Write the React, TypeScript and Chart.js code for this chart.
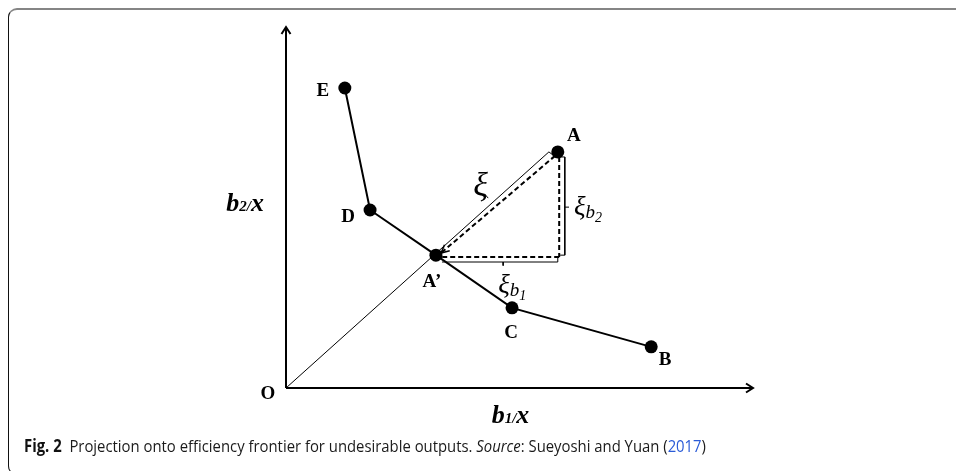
import React, { useEffect, useRef } from "react";
import { Chart, registerables } from "chart.js";

Chart.register(...registerables);

// ---- diagram data (abstract units: both axes run 0..10) ----
const frontierLabels = ["E", "D", "A\u2019", "C", "B"];
const frontierX = [1.26, 1.8, 3.21, 4.84, 7.82];
const frontierY = [8.31, 4.93, 3.68, 2.22, 1.14];

const unitLabels = ["A"];
const unitX = [5.82];
const unitY = [6.54];

const axisMax = [10, 10];

// ray from origin through A' (thin), ending with a small bracket tick
const rayX = [0, 5.63, 5.74];
const rayY = [0, 6.54, 6.43];
const xiTickX = [4.33, 4.25];
const xiTickY = [5.26, 5.38];

// dashed projection A -> A'
const projX = [5.76, 3.32];
const projY = [6.43, 3.74];
const dashVX = [5.85, 5.85];
const dashVY = [6.4, 3.63];
const dashHX = [5.85, 3.32];
const dashHY = [3.63, 3.63];

// bracket for xi_b2 (vertical)
const brVX = [5.87, 5.97, 5.97, 5.87];
const brVY = [6.4, 6.4, 3.68, 3.68];
const brVTickX = [5.97, 6.06];
const brVTickY = [5.01, 5.01];

// bracket for xi_b1 (horizontal)
const brHX = [3.34, 5.82, 5.82];
const brHY = [3.49, 3.49, 3.63];
const brHTickX = [4.65, 4.65];
const brHTickY = [3.49, 3.39];

const pts = (xs: number[], ys: number[]) => xs.map((x, i) => ({ x, y: ys[i] }));

const SERIF = "'Liberation Serif', 'Times New Roman', serif";

function chevron(ctx: CanvasRenderingContext2D, tx: number, ty: number, fx: number, fy: number, len: number, half: number) {
  const dx = tx - fx;
  const dy = ty - fy;
  const d = Math.hypot(dx, dy);
  const ux = dx / d;
  const uy = dy / d;
  const bx = tx - ux * len;
  const by = ty - uy * len;
  ctx.beginPath();
  ctx.moveTo(bx - uy * half, by + ux * half);
  ctx.lineTo(tx, ty);
  ctx.lineTo(bx + uy * half, by - ux * half);
  ctx.stroke();
}

function richText(ctx: CanvasRenderingContext2D, x: number, y: number, parts: { t: string; font: string; dy?: number }[], align: "left" | "center" | "right") {
  let total = 0;
  for (const p of parts) {
    ctx.font = p.font;
    total += ctx.measureText(p.t).width;
  }
  let cx = align === "left" ? x : align === "center" ? x - total / 2 : x - total;
  ctx.textAlign = "left";
  ctx.textBaseline = "alphabetic";
  for (const p of parts) {
    ctx.font = p.font;
    ctx.fillText(p.t, cx, y + (p.dy || 0));
    cx += ctx.measureText(p.t).width;
  }
}

const diagramPlugin = {
  id: "diagram",
  afterDatasetsDraw(chart: any) {
    const ctx: CanvasRenderingContext2D = chart.ctx;
    const xs = chart.scales.x;
    const ys = chart.scales.y;
    const px = (v: number) => xs.getPixelForValue(v);
    const py = (v: number) => ys.getPixelForValue(v);
    ctx.save();
    ctx.strokeStyle = "#000";
    ctx.fillStyle = "#000";
    ctx.setLineDash([]);
    ctx.lineCap = "butt";
    ctx.lineJoin = "miter";

    // axis arrowheads
    ctx.lineWidth = 2;
    chevron(ctx, px(axisMax[0]), py(0), px(0), py(0), 7, 4.5);
    chevron(ctx, px(0), py(axisMax[1]), px(0), py(0), 7, 4.5);

    // projection arrowhead at A'
    ctx.lineWidth = 1.6;
    chevron(ctx, px(projX[1]), py(projY[1]), px(projX[0]), py(projY[0]), 8, 4);

    // point labels
    ctx.font = `bold 19px ${SERIF}`;
    ctx.textAlign = "center";
    ctx.textBaseline = "middle";
    const offs: [number, number][] = [
      [-22, 3],
      [-22, 7],
      [-4, 27],
      [-1, 25],
      [14, 13],
    ];
    frontierLabels.forEach((l, i) => {
      ctx.fillText(l, px(frontierX[i]) + offs[i][0], py(frontierY[i]) + offs[i][1]);
    });
    unitLabels.forEach((l, i) => {
      ctx.fillText(l, px(unitX[i]) + 16, py(unitY[i]) - 16);
    });
    ctx.fillText("O", px(0) - 18, py(0) + 6);

    // axis titles
    const big = `italic bold 26px ${SERIF}`;
    const small = `italic bold 15px ${SERIF}`;
    richText(ctx, px(0) - 22, py(5) + 3, [
      { t: "b", font: big },
      { t: "2/", font: small },
      { t: "x", font: big },
    ], "right");
    richText(ctx, px(5) - 9, py(0) + 35, [
      { t: "b", font: big },
      { t: "1/", font: small },
      { t: "x", font: big },
    ], "center");

    // xi labels
    richText(ctx, px(xiTickX[1]) - 4, py(xiTickY[1]) + 2, [{ t: "\u03BE", font: `italic 34px ${SERIF}` }], "center");
    richText(ctx, px(brVTickX[1]) + 5, py(brVTickY[1]) + 8, [
      { t: "\u03BE", font: `italic 27px ${SERIF}` },
      { t: "b", font: `italic 19px ${SERIF}`, dy: 3 },
      { t: "2", font: `italic 14px ${SERIF}`, dy: 7 },
    ], "left");
    richText(ctx, px(brHTickX[1]) - 5, py(brHTickY[1]) + 27, [
      { t: "\u03BE", font: `italic 27px ${SERIF}` },
      { t: "b", font: `italic 19px ${SERIF}`, dy: 3 },
      { t: "1", font: `italic 14px ${SERIF}`, dy: 7 },
    ], "left");

    ctx.restore();
  },
};

const lineDs = (xs: number[], ys: number[], width: number, dash: number[] = []) => ({
  data: pts(xs, ys),
  showLine: true,
  borderColor: "#000",
  borderWidth: width,
  borderDash: dash,
  pointRadius: 0,
  pointHoverRadius: 0,
  fill: false,
  tension: 0,
  clip: false as any,
});

export default function App() {
  const canvasRef = useRef<HTMLCanvasElement | null>(null);
  const capRef = useRef<HTMLSpanElement | null>(null);

  useEffect(() => {
    document.documentElement.style.overflow = "hidden";
    document.body.style.overflow = "hidden";
    if (!canvasRef.current) return;
    const chart = new Chart(canvasRef.current, {
      type: "scatter",
      data: {
        datasets: [
          {
            ...lineDs(frontierX, frontierY, 2),
            pointRadius: 6.5,
            pointBackgroundColor: "#000",
            pointBorderColor: "#000",
            pointBorderWidth: 0,
          } as any,
          {
            data: pts(unitX, unitY),
            showLine: false,
            pointRadius: 6.5,
            pointBackgroundColor: "#000",
            pointBorderColor: "#000",
            pointBorderWidth: 0,
            clip: false,
          } as any,
          lineDs(projX, projY, 2, [5, 3]),
          lineDs(dashVX, dashVY, 2, [5, 3]),
          lineDs(dashHX, dashHY, 2, [5, 3]),
          lineDs(rayX, rayY, 1),
          lineDs(xiTickX, xiTickY, 1),
          lineDs(brVX, brVY, 1),
          lineDs(brVTickX, brVTickY, 1),
          lineDs(brHX, brHY, 1),
          lineDs(brHTickX, brHTickY, 1),
          lineDs([0, axisMax[0]], [0, 0], 2),
          lineDs([0, 0], [0, axisMax[1]], 2),
        ],
      },
      options: {
        responsive: false,
        animation: false,
        events: [],
        layout: { padding: { left: 286, right: 203, top: 27, bottom: 83 } },
        scales: {
          x: { type: "linear", min: 0, max: axisMax[0], display: false },
          y: { type: "linear", min: 0, max: axisMax[1], display: false },
        },
        plugins: { legend: { display: false }, tooltip: { enabled: false } },
      },
      plugins: [diagramPlugin],
    });
    if (capRef.current) {
      const w = capRef.current.getBoundingClientRect().width;
      capRef.current.style.transform = `scaleX(${682 / w})`;
    }
    return () => chart.destroy();
  }, []);

  return (
    <div
      style={{
        position: "absolute",
        left: 0,
        top: 0,
        width: 956,
        height: 471,
        overflow: "hidden",
      }}
    >
      <div
        style={{
          position: "absolute",
          left: 8,
          top: 8,
          width: 1100,
          height: 467,
          borderTop: "2px solid #858585",
          borderLeft: "1.5px solid #111",
          borderBottom: "1.5px solid #111",
          borderTopLeftRadius: 9,
          borderBottomLeftRadius: 9,
          boxSizing: "border-box",
        }}
      />
      <canvas
        ref={canvasRef}
        width={956}
        height={471}
        style={{ position: "absolute", left: 0, top: 0, width: 956, height: 471 }}
      />
      <span
        ref={capRef}
        style={{
          position: "absolute",
          left: 24,
          top: 434,
          fontFamily: "'Open Sans', 'Noto Sans', sans-serif",
          fontSize: 17,
          lineHeight: "23px",
          color: "#1a1a1a",
          whiteSpace: "pre",
          transformOrigin: "0 0",
          display: "inline-block",
        }}
      >
        <b style={{ fontWeight: 700, color: "#111" }}>Fig. 2</b>
        {"  Projection onto efficiency frontier for undesirable outputs. "}
        <i>Source</i>
        {": Sueyoshi and Yuan ("}
        <span style={{ color: "#2a5bd7" }}>2017</span>
        {")"}
      </span>
    </div>
  );
}
